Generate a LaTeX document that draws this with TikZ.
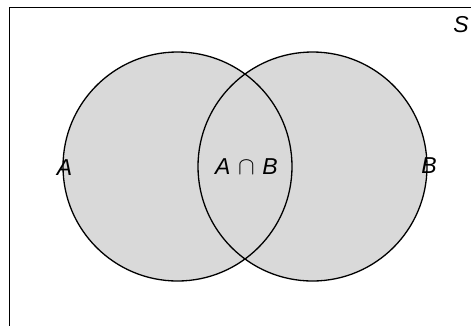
\documentclass[tikz,border=0pt]{standalone}
\usepackage{fontspec}
\setmainfont{Liberation Sans}
\begin{document}
\begin{tikzpicture}[x=1pt,y=-1pt,
  setfill/.style={fill=black!15},
  setline/.style={draw=black,line width=1.3pt},
  lbl/.style={inner sep=0pt,font=\fontsize{23}{27}\selectfont\itshape}]
\useasboundingbox (0,0) rectangle (471,325);
\clip (0,0) rectangle (471,325);
\draw[line width=1pt] (9.5,7) rectangle (490,345);
\coordinate (ca) at (177.5,166.5);
\coordinate (cb) at (312.5,166.5);
\fill[setfill] (ca) circle[radius=114.5];
\fill[setfill] (cb) circle[radius=114.5];
\draw[setline] (ca) circle[radius=114.5];
\draw[setline] (cb) circle[radius=114.5];
\node[lbl] (s) at (461,25) {S};
\node[lbl] (a) at (64.5,167.5) {A};
\node[lbl] (ab) at (246.5,166.5) {A\,\,$\cap$\,\,B};
\node[lbl] (b) at (429,165.5) {B};
\end{tikzpicture}
\end{document}
